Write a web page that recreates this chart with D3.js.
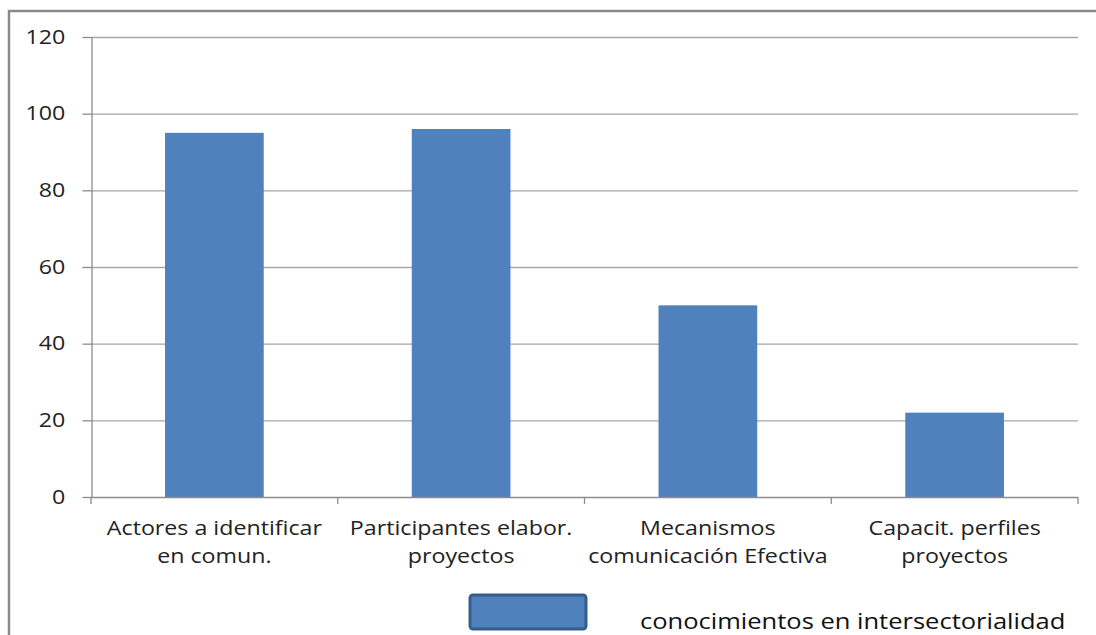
<!DOCTYPE html>
<html><head><meta charset="utf-8">
<script src="https://cdn.jsdelivr.net/npm/d3@7"></script>
<style>body{margin:0;background:#fff;}svg{display:block;font-family:"Open Sans",sans-serif;}</style>
</head><body>
<svg id="c" width="1096" height="635"></svg>
<script>
const categories = [["Actores a identificar","en comun."],["Participantes elabor.","proyectos"],["Mecanismos","comunicación Efectiva"],["Capacit. perfiles","proyectos"]];
const values = [95, 96, 50, 22];
const yTicks = [0,20,40,60,80,100,120];
const seriesName = "conocimientos en intersectorialidad";

const svg = d3.select("#c");
const L = 91, R = 1078, T = 37, B = 497;
const FONT = "'Open Sans',sans-serif";
const SX = 1.19;
const ids = d3.range(categories.length);
const x = d3.scaleBand().domain(ids).range([L, R]).paddingInner(0.6).paddingOuter(0.3);
const xb = d3.scaleBand().domain(ids).range([L, R]);
const y = d3.scaleLinear().domain([0,120]).range([B, T]);

// outer border
svg.append("path").attr("d", `M9,640 V11 H1100`).attr("fill","none").attr("stroke","#8a8a8a").attr("stroke-width",2.5);

// gridlines
svg.append("g").selectAll("line").data(yTicks.filter(d=>d>0)).join("line")
  .attr("x1", L).attr("x2", R).attr("y1", d=>y(d)+0.5).attr("y2", d=>y(d)+0.5)
  .attr("stroke","#a6a6a6").attr("stroke-width",1.3);

// bars
svg.append("g").selectAll("rect").data(values).join("rect")
  .attr("x",(d,i)=>x(i)).attr("width",x.bandwidth())
  .attr("y",d=>y(d)).attr("height",d=>B-y(d))
  .attr("fill","#4f81bd");

// y axis
const ya = svg.append("g").attr("transform",`translate(${L+0.5},0)`)
  .call(d3.axisLeft(y).tickValues(yTicks).tickSize(9).tickPadding(13).tickSizeOuter(0));
ya.select(".domain").attr("stroke","#8c8c8c").attr("stroke-width",1.3);
ya.selectAll(".tick line").attr("stroke","#8c8c8c").attr("stroke-width",1.3);
ya.selectAll(".tick text").attr("font-size",19.5).attr("fill","#222").attr("font-family",FONT)
  .attr("transform",`scale(${SX},1)`);

// x axis
svg.append("line").attr("x1",L).attr("x2",R).attr("y1",B+0.5).attr("y2",B+0.5).attr("stroke","#8c8c8c").attr("stroke-width",1.3);
svg.append("g").selectAll("line").data(d3.range(categories.length+1)).join("line")
  .attr("x1",d=> d<categories.length ? xb(d) : R).attr("x2",d=> d<categories.length ? xb(d) : R)
  .attr("y1",B).attr("y2",B+7).attr("stroke","#8c8c8c").attr("stroke-width",1.3);
const lab = svg.append("g").selectAll("text").data(categories).join("text")
  .attr("transform",(d,i)=>`translate(${xb(i)+xb.bandwidth()/2},535) scale(${SX},1)`)
  .attr("x",0).attr("y",0)
  .attr("text-anchor","middle").attr("font-size",19.5).attr("fill","#222");
lab.selectAll("tspan").data(d=>d).join("tspan")
  .attr("x",0).attr("dy",(d,i)=>i===0?0:28).text(d=>d);

// legend
svg.append("rect").attr("x",470).attr("y",595).attr("width",116).attr("height",34).attr("rx",3)
  .attr("fill","#4f81bd").attr("stroke","#385d8a").attr("stroke-width",3);
svg.append("text").attr("transform",`translate(640,629) scale(1.16,1)`)
  .attr("font-size",22).attr("fill","#111").text(seriesName);
</script>
</body></html>
